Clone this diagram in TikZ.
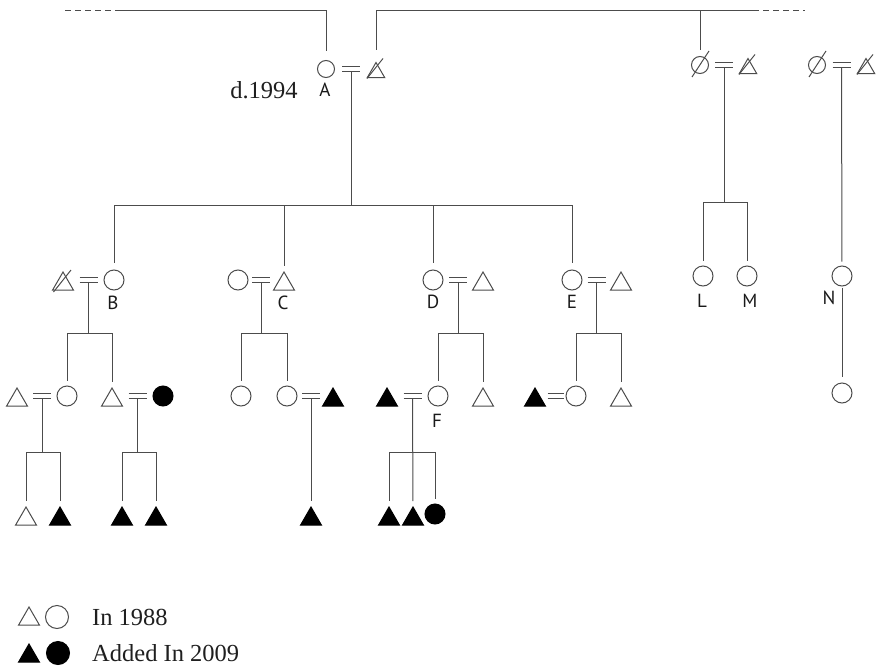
\documentclass[tikz,border=0pt]{standalone}
\usepackage{fontspec}
\setmainfont{Liberation Serif}
\newfontfamily\lblfont{PT Sans}
\usetikzlibrary{shapes.geometric,calc}
\definecolor{lc}{gray}{0.3}
% slash through a deceased person's symbol
\newcommand{\deadtri}[1]{\draw[ln] ([shift={(-9.5pt,-8pt)}]#1.center) -- ([shift={(8pt,14pt)}]#1.center);}
\newcommand{\deadtrismall}[1]{\draw[ln] ([shift={(-9pt,-6pt)}]#1.center) -- ([shift={(7pt,14pt)}]#1.center);}
\newcommand{\deadcirc}[1]{\draw[ln] ([shift={(-8pt,-12pt)}]#1.center) -- ([shift={(9pt,14pt)}]#1.center);}
\begin{document}
\begin{tikzpicture}[x=1pt,y=-1pt,
  ln/.style={draw=lc,line width=1pt},
  dsh/.style={ln,dash pattern=on 6pt off 4pt},
  fem/.style={circle,draw=lc,line width=1pt,minimum size=20pt,inner sep=0pt},
  femS/.style={fem,minimum size=17pt},
  tri/.style={regular polygon,regular polygon sides=3,draw=lc,line width=1pt,inner sep=0pt},
  mal/.style={tri,minimum size=24pt,yshift=-4pt},
  malS/.style={tri,minimum size=20pt,yshift=-3.5pt},
  new/.style={fill=black,draw=black},
  lbl/.style={font=\lblfont\fontsize{19}{21}\selectfont,inner sep=0pt,text=black!90},
  txt/.style={font=\fontsize{24.5}{28}\selectfont,inner sep=0pt,text=black!88},
  wed/.pic={\draw[ln] (-9,-2.5) -- (9,-2.5) (-9,2.5) -- (9,2.5);},
  wedS/.pic={\draw[ln] (-8,-2.5) -- (8,-2.5) (-8,2.5) -- (8,2.5);},
  drop/.style={ln,shorten >=5pt}
]
\useasboundingbox (0,0) rectangle (879,667);

% ---------- generation 0 ----------
\node[femS] (A) at (326,69) {};
\node[malS] (Ah) at (376,69) {};
\coordinate (mA) at (351,69);
\pic at (mA) {wed};
\deadtrismall{Ah}
\node[lbl] (lA) at (325,90) {A};
\node[txt] (d94) at (264,90) {d.1994};

\node[femS] (P) at (700,65) {};
\node[malS] (Ph) at (748,65) {};
\coordinate (mP) at (724,65);
\pic at (mP) {wed};
\deadcirc{P}
\deadtrismall{Ph}

\node[femS] (Q) at (817,65) {};
\node[malS] (Qh) at (866,65) {};
\coordinate (mQ) at (841.5,65);
\pic at (mQ) {wed};
\deadcirc{Q}
\deadtrismall{Qh}

% lines to the previous generation
\coordinate (tl) at (65,10);
\coordinate (tls) at (115,10);
\coordinate (tr) at (753,10);
\coordinate (tre) at (805,10);
\draw[dsh] (tl) -- (tls);
\draw[ln,shorten >=9pt] (tls) -| (A.north);
\draw[ln,shorten <=12pt] (Ah.north) |- (tr);
\draw[dsh] (tr) -- (tre);
\draw[ln,shorten >=6pt] (P.north |- tr) -- (P.north);

% ---------- generation 1 ----------
\node[mal] (Bh) at (63,280) {};
\node[fem] (B) at (114,280) {};
\coordinate (mB) at (88.5,280);
\pic at (mB) {wed};
\deadtri{Bh}

\node[fem] (Cw) at (238,280) {};
\node[mal] (C) at (284,280) {};
\coordinate (mC) at (261,280);
\pic at (mC) {wed};

\node[fem] (D) at (433,280) {};
\node[mal] (Dh) at (483,280) {};
\coordinate (mD) at (458,280);
\pic at (mD) {wed};

\node[fem] (E) at (572,280) {};
\node[mal] (Eh) at (621,280) {};
\coordinate (mE) at (596.5,280);
\pic at (mE) {wed};

\node[fem] (L) at (703,276) {};
\node[fem] (M) at (747,276) {};
\node[fem] (N) at (842,276) {};

\node[lbl] (lB) at (113,303) {B};
\node[lbl] (lC) at (283,303) {C};
\node[lbl] (lD) at (433,302) {D};
\node[lbl] (lE) at (572,302) {E};
\node[lbl] (lL) at (702,301) {L};
\node[lbl] (lM) at (750,301) {M};
\node[lbl] (lN) at (829,298) {N};

\coordinate (bar1) at (0,205);
\draw[ln] ([yshift=-2.5pt]mA) -- (mA |- bar1);
\draw[ln] (B.north |- bar1) -- (E.north |- bar1);
\draw[drop,shorten >=7pt] (B.north |- bar1) -- (B.north);
\draw[drop] (C.north |- bar1) -- (C.north);
\draw[drop,shorten >=7pt] (D.north |- bar1) -- (D.north);
\draw[drop,shorten >=7pt] (E.north |- bar1) -- (E.north);

\coordinate (barLM) at (0,202);
\draw[ln] ([yshift=-2.5pt]mP) -- (mP |- barLM);
\draw[ln] (L.north |- barLM) -- (M.north |- barLM);
\draw[drop] (L.north |- barLM) -- (L.north);
\draw[drop] (M.north |- barLM) -- (M.north);

\draw[drop,shorten >=4pt] ([yshift=-2.5pt]mQ) -- (N.north);

% ---------- generation 2 ----------
\node[mal] (b1h) at (17,396) {};
\node[fem] (b1) at (67,396) {};
\coordinate (mb1) at (42,396);
\pic at (mb1) {wed};
\node[mal] (b2h) at (112,396) {};
\node[fem,new] (b2) at (163,396) {};
\coordinate (mb2) at (137.5,396);
\pic at (mb2) {wed};

\node[fem] (c1) at (241,396) {};
\node[fem] (c2) at (287,396) {};
\node[mal,new] (c2h) at (333,396) {};
\coordinate (mc2) at (311,396);
\pic at (mc2) {wed};

\node[mal,new] (Fh) at (387,396) {};
\node[fem] (F) at (438,396) {};
\coordinate (mF) at (412.5,396);
\pic at (mF) {wed};
\node[mal] (d2) at (483,396) {};
\node[lbl] (lF) at (437,421) {F};

\node[mal,new] (e1h) at (535,396) {};
\node[fem] (e1) at (576,396) {};
\coordinate (me1) at (555.5,396);
\pic at (me1) {wedS};
\node[mal] (e2) at (621,396) {};

\node[fem] (n1) at (842,393) {};
\draw[ln,shorten <=1pt,shorten >=6pt] (N.south) -- (n1.north);

\coordinate (bar2) at (0,333);
\draw[ln] ([yshift=-2.5pt]mB) -- (mB |- bar2);
\draw[ln] (b1.north |- bar2) -- (b2h.north |- bar2);
\draw[drop] (b1.north |- bar2) -- (b1.north);
\draw[drop] (b2h.north |- bar2) -- (b2h.north);

\draw[ln] ([yshift=-2.5pt]mC) -- (mC |- bar2);
\draw[ln] (c1.north |- bar2) -- (c2.north |- bar2);
\draw[drop] (c1.north |- bar2) -- (c1.north);
\draw[drop] (c2.north |- bar2) -- (c2.north);

\draw[ln] ([yshift=-2.5pt]mD) -- (mD |- bar2);
\draw[ln] (F.north |- bar2) -- (d2.north |- bar2);
\draw[drop] (F.north |- bar2) -- (F.north);
\draw[drop] (d2.north |- bar2) -- (d2.north);

\draw[ln] ([yshift=-2.5pt]mE) -- (mE |- bar2);
\draw[ln] (e1.north |- bar2) -- (e2.north |- bar2);
\draw[drop] (e1.north |- bar2) -- (e1.north);
\draw[drop] (e2.north |- bar2) -- (e2.north);

% ---------- generation 3 ----------
\node[mal] (k1) at (26,515) {};
\node[mal,new] (k2) at (60,515) {};
\node[mal,new] (k3) at (122,515) {};
\node[mal,new] (k4) at (156,515) {};
\node[mal,new] (k5) at (311,515) {};
\node[mal,new] (k6) at (389,515) {};
\node[mal,new] (k7) at (413,515) {};
\node[fem,new] (k8) at (435,514) {};

\coordinate (bar3) at (0,452);
\draw[ln] ([yshift=-2.5pt]mb1) -- (mb1 |- bar3);
\draw[ln] (k1.north |- bar3) -- (k2.north |- bar3);
\draw[drop] (k1.north |- bar3) -- (k1.north);
\draw[drop] (k2.north |- bar3) -- (k2.north);

\draw[ln] ([yshift=-2.5pt]mb2) -- (mb2 |- bar3);
\draw[ln] (k3.north |- bar3) -- (k4.north |- bar3);
\draw[drop] (k3.north |- bar3) -- (k3.north);
\draw[drop] (k4.north |- bar3) -- (k4.north);

\draw[drop] ([yshift=-2.5pt]mc2) -- (k5.north);

\draw[drop] ([yshift=-2.5pt]mF) -- (k7.north);
\draw[ln] (k6.north |- bar3) -- (k8.north |- bar3);
\draw[drop] (k6.north |- bar3) -- (k6.north);
\draw[drop] (k8.north |- bar3) -- (k8.north);

% ---------- key ----------
\node[tri,minimum size=24pt] (g1) at (29,619) {};
\node[fem,minimum size=23pt] (g2) at (57,617) {};
\node[tri,new,minimum size=24pt] (g3) at (29,656) {};
\node[fem,new,minimum size=23pt] (g4) at (58,653) {};
\node[txt,anchor=west] (t1) at (92,617) {In 1988};
\node[txt,anchor=west] (t2) at (92,653) {Added In 2009};
\end{tikzpicture}
\end{document}
